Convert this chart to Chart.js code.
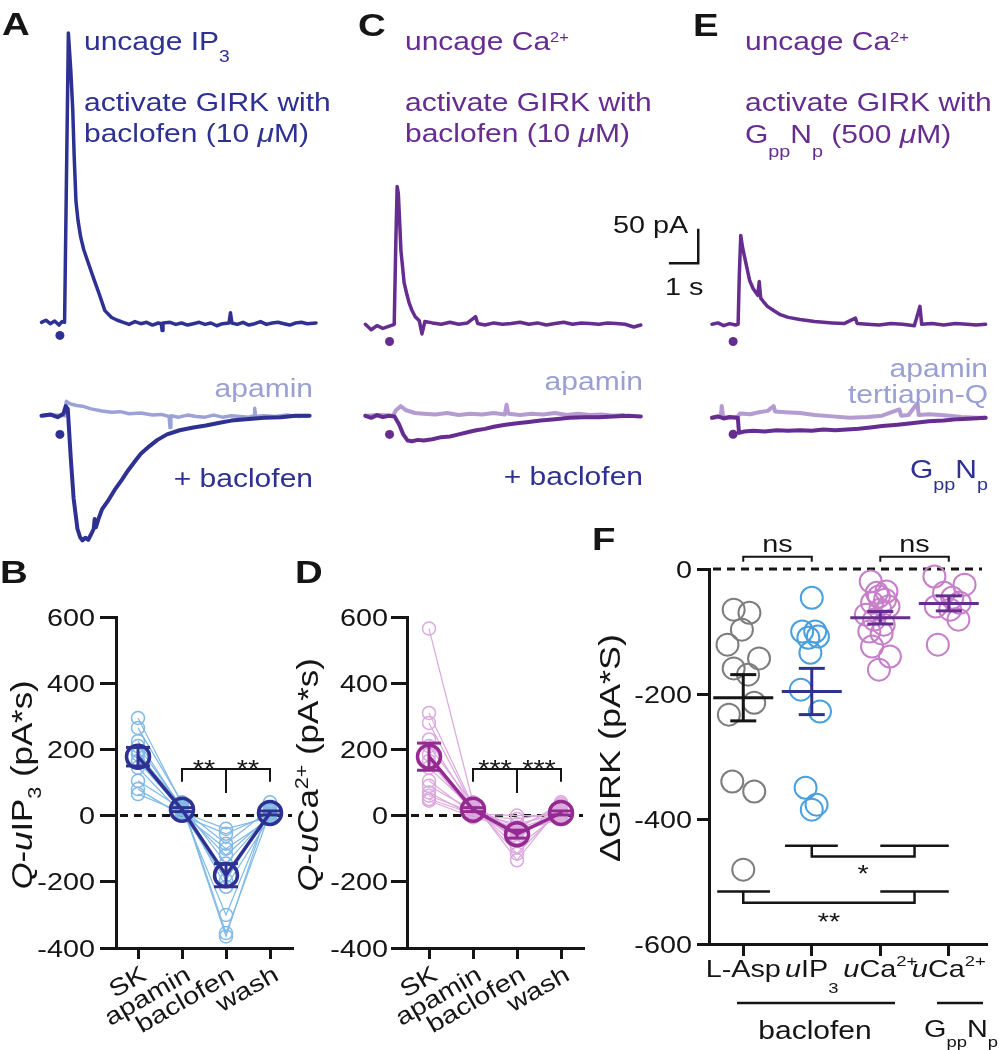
<!DOCTYPE html>
<html><head><meta charset="utf-8"><title>SK and GIRK currents</title>
<script src="https://cdn.jsdelivr.net/npm/chart.js@4.4.1/dist/chart.umd.min.js"></script>
<style>
html,body{margin:0;padding:0;background:#fff}
#fig{position:relative;width:999px;height:1050px;overflow:hidden;background:#fff}
#fig canvas{position:absolute}
</style></head><body>
<div id="fig">
<canvas id="cA" width="340" height="560" style="left:0px;top:0px"></canvas>
<canvas id="cC" width="330" height="560" style="left:330px;top:0px"></canvas>
<canvas id="cE" width="399" height="560" style="left:600px;top:0px"></canvas>
<canvas id="cB" width="330" height="490" style="left:0px;top:560px"></canvas>
<canvas id="cD" width="330" height="490" style="left:290px;top:560px"></canvas>
<canvas id="cF" width="419" height="560" style="left:580px;top:490px"></canvas>
</div>
<script>
// ================= DATA =================
// Panel A traces (time in s, current in pA)
const aTopT = [0,0.15,0.3,0.45,0.6,0.7,0.79,0.92,1.0,1.07,1.12,1.18,1.25,1.34,1.45,1.62,1.8,1.96,2.17,2.4,2.6,2.8,3.0,3.2,3.4,3.6,3.8,4.0,4.1,4.13,4.16,4.4,4.6,4.8,5.0,5.2,5.4,5.6,5.8,6.0,6.2,6.42,6.47,6.52,6.7,6.9,7.1,7.3,7.5,7.7,7.9,8.1,8.3,8.5,8.7,8.9,9.1,9.4];
const aTopI = [0,3,-2,2,-4,1,0,420,368,309,240,176,148,124,105,84,62,43,17,7,3,0,-3,1,-2,0,-4,-1,-2,-12,-1,0,-3,-1,-4,-2,0,-3,-1,-5,-2,-1,14,-1,-3,0,-4,-2,1,-3,-1,0,-2,-4,-1,0,-2,-1];
const aApaT = [0,0.4,0.8,0.85,0.92,1.0,1.2,1.4,1.7,2.07,2.4,2.7,3.0,3.4,3.8,4.1,4.37,4.4,4.43,4.7,5.0,5.3,5.6,5.9,6.2,6.5,6.8,7.1,7.28,7.3,7.33,7.6,8.0,8.4,8.8,9.2];
const aApaI = [0,1,0,21,19,17,15,14,10,7,5,6,3,4,1,2,-1,-17,0,-2,1,-1,-2,1,-2,0,-1,-2,0,11,-1,0,-1,1,-1,0];
const aBacT = [0,0.3,0.55,0.75,0.83,0.9,1.0,1.1,1.23,1.32,1.4,1.5,1.6,1.7,1.79,1.82,1.86,1.95,2.07,2.3,2.5,2.75,2.97,3.2,3.4,3.7,3.97,4.3,4.73,5.2,5.63,6.1,6.5,7.0,7.63,8.2,8.7,9.17];
const aBacI = [0,2,-2,3,14,10,-60,-120,-164,-176,-181,-177,-180,-172,-164,-150,-162,-150,-136,-122,-108,-93,-79,-66,-55,-44,-35,-27,-21,-17,-14,-10,-7,-5,-3,-2,0,0];
const aStimT = 0.63, aStimTopI = -19, aStimBotI = -27;

// Panel C traces
const cTopT = [0,0.2,0.4,0.6,0.8,0.99,1.04,1.09,1.13,1.17,1.22,1.33,1.42,1.5,1.6,1.71,1.85,1.94,2.04,2.3,2.6,2.9,3.2,3.5,3.78,3.85,4.1,4.4,4.7,5.0,5.3,5.6,5.9,6.2,6.5,6.8,7.1,7.4,7.7,8.0,8.3,8.6,8.9,9.2,9.44];
const cTopI = [0,-8,-2,-6,-3,0,110,200,190,155,107,60,44,31,20,11,5,-14,4,2,0,3,0,2,11,1,-1,2,0,1,3,0,2,-1,1,3,0,2,1,0,2,1,0,-4,-1];
const cApaT = [0,0.5,0.95,1.05,1.21,1.4,1.7,2.0,2.4,2.8,3.2,3.6,4.0,4.4,4.78,4.84,4.9,5.3,5.7,6.1,6.5,6.9,7.3,7.7,8.1,8.5,8.84];
const cApaI = [0,1,0,8,14,8,4,3,2,4,1,3,2,4,2,16,3,1,3,2,4,1,3,1,2,0,1];
const cBacT = [0,0.2,0.4,0.6,0.8,1.0,1.15,1.3,1.45,1.6,1.8,2.0,2.3,2.6,2.9,3.2,3.5,3.8,4.1,4.4,4.8,5.2,5.6,6.0,6.5,7.0,7.5,8.0,8.5,9.0,9.44];
const cBacI = [0,-3,1,-2,0,-1,-12,-27,-36,-37,-35,-36,-34,-31,-30,-27,-24,-21,-19,-16,-13,-11,-9,-7,-5,-3,-2,-2,-1,0,-1];
const cStimT = 0.83, cStimTopI = -25, cStimBotI = -27;

// Panel E traces
const eTopT = [0,0.2,0.4,0.6,0.8,0.89,0.93,0.98,1.04,1.11,1.2,1.28,1.4,1.56,1.61,1.66,1.75,1.89,2.1,2.33,2.6,3.0,3.5,4.1,4.5,4.89,4.95,5.3,5.7,6.1,6.5,6.9,7.09,7.15,7.5,7.9,8.3,8.7,9.0,9.33];
const eTopI = [0,2,-2,1,-1,0,70,129,112,98,80,64,52,42,62,38,33,26,20,14,10,7,4,2,1,9,1,0,-1,1,0,-2,26,0,1,-1,1,0,-1,0];
const eApaT = [0,0.3,0.33,0.38,0.6,0.89,0.95,1.3,1.6,1.9,2.1,2.15,2.5,3.0,3.5,4.1,4.7,5.3,5.8,6.39,6.45,6.7,7.0,7.05,7.4,7.8,8.1,8.5,9.0,9.33];
const eApaI = [0,1,17,1,0,2,6,5,8,10,17,9,8,7,4,2,0,1,3,12,3,4,21,4,5,4,3,1,0,0];
const eGppT = [0,0.2,0.4,0.6,0.8,0.88,0.92,1.1,1.4,1.8,2.2,2.6,3.0,3.4,3.8,4.2,4.6,5.0,5.4,5.8,6.33,6.8,7.4,7.9,8.4,8.9,9.33];
const eGppI = [0,2,-1,1,0,0,-22,-20,-19,-20,-18,-19,-18,-19,-17,-18,-17,-16,-14,-12,-10,-8,-5,-4,-2,-1,0];
const eStimT = 0.72, eStimTopI = -25, eStimBotI = -24;
const scaleBarS = 1, scaleBarPA = 50;

// Panel B (Q-uIP3, pA*s), one entry per cell
const condCats = ['SK','apamin','baclofen','wash'];
const bSK       = [295,265,225,210,195,185,165,145,105,80,65];
const bApamin   = [35,40,20,25,10,30,15,5,20,0,10];
const bBaclofen = [-365,-355,-300,-215,-195,-145,-120,-100,-85,-55,-40];
const bWash     = [40,10,25,-5,15,5,0,-10,20,5,-5];
const bMean = [178,18,-180,8];
const bSem  = [28,6,35,6];

// Panel D (Q-uCa2+, pA*s)
const dSK       = [565,310,280,230,210,185,165,145,105,90,70,60,50,45];
const dApamin   = [40,30,25,20,35,15,10,20,5,15,0,10,5,-5];
const dBaclofen = [-135,-115,-95,-75,-55,-45,-65,-35,-25,-50,-10,-40,0,-40];
const dWash     = [30,20,10,40,0,-5,15,25,5,-10,10,35,0,5];
const dMean = [178,18,-56,8];
const dSem  = [41,6,12,6];

// Panel F (delta GIRK, pA*S)
const fCats = ['L-Asp','~u~IP_{3}','~u~Ca^{2+}','~u~Ca^{2+}'];
const fLAsp    = [-65,-70,-97,-121,-143,-159,-169,-214,-233,-340,-356,-481];
const fLAspJit = [-0.14,0.09,-0.02,-0.23,0.23,-0.14,0.07,0.16,-0.21,-0.16,0.16,0];
const fUIP3    = [-46,-100,-100,-108,-110,-134,-193,-228,-350,-377,-385];
const fUIP3Jit = [0,-0.14,0.05,0.09,-0.05,-0.02,-0.16,0.12,-0.09,0.07,0];
const fUCa     = [-20,-36,-44,-54,-60,-73,-65,-81,-89,-100,-103,-124,-140,-161,-38,-49];
const fUCaJit  = [-0.14,0.09,-0.02,-0.12,0.12,-0.21,0,-0.09,0.05,-0.16,0.02,-0.12,0.14,-0.02,-0.05,0.07];
const fGpp     = [-12,-25,-38,-46,-54,-60,-65,-81,-121];
const fGppJit  = [-0.21,0.23,-0.07,0.05,0.16,-0.19,0.02,0.14,-0.16];
const fMean = [-206,-196,-78,-55];
const fSem  = [37,37,10,12];

// ================= STYLE =================
const FAM = '"Liberation Sans", Arial, Helvetica, sans-serif';
const SX = 1.2;
const BLACK = '#151515', BLUE = '#2e3192', PERI = '#9aa0d4', PURPLE = '#662d91';
const A_LIGHT = '#9ca1d6', C_LIGHT = '#b49bd0';
const B_LIGHT = '#80b9e6', D_LIGHT = '#dca8de', D_DARK = '#952a92';
const F_GREY = '#7d7d7d', F_BLUE = '#4aa0dd', F_PINK = '#c67fc8';

function parseRich(s){
  const segs=[]; let cur='', it=false, i=0;
  const push=(t,ex)=>{ if(t) segs.push(Object.assign({t:t,i:it},ex||{})); };
  while(i<s.length){
    const c=s[i];
    if(c==='~'){ push(cur); cur=''; it=!it; i++; continue; }
    if((c==='_'||c==='^') && s[i+1]==='{'){
      push(cur); cur=''; const j=s.indexOf('}',i);
      push(s.slice(i+2,j), c==='_'?{sub:true}:{sup:true}); i=j+1; continue;
    }
    cur+=c; i++;
  }
  push(cur); return segs;
}
function drawText(ctx, s, x, y, o){
  o=o||{}; const size=o.size||24, bold=o.bold?'bold ':'';
  const small=o.small||0.62, subDy=(o.subDy!==undefined)?o.subDy:size*0.45, supDy=(o.supDy!==undefined)?o.supDy:-size*0.32;
  const segs=parseRich(s);
  const fontOf=sg=>(sg.i?'italic ':'')+bold+((sg.sub||sg.sup)?size*small:size)+'px '+FAM;
  let w=0; segs.forEach(sg=>{ ctx.font=fontOf(sg); sg.w=ctx.measureText(sg.t).width; w+=sg.w; });
  ctx.save(); ctx.translate(x,y); if(o.rot) ctx.rotate(o.rot*Math.PI/180); ctx.scale(o.sx||SX,1);
  ctx.fillStyle=o.color||BLACK; ctx.textBaseline='alphabetic'; ctx.textAlign='left';
  let cx = o.align==='right' ? -w : (o.align==='center' ? -w/2 : 0);
  segs.forEach(sg=>{ ctx.font=fontOf(sg); const dy=sg.sub?subDy:(sg.sup?supDy:0); ctx.fillText(sg.t,cx,dy); cx+=sg.w; });
  ctx.restore();
}
function seg(ctx, pts, w, color){
  ctx.save(); ctx.strokeStyle=color||BLACK; ctx.lineWidth=w; ctx.lineJoin='miter'; ctx.lineCap='butt';
  ctx.beginPath(); ctx.moveTo(pts[0][0],pts[0][1]); for(let i=1;i<pts.length;i++) ctx.lineTo(pts[i][0],pts[i][1]); ctx.stroke(); ctx.restore();
}
const zip=(t,v)=>t.map((x,i)=>({x:x,y:v[i]}));

// ================= TRACE PANELS =================
const PX_S = 30, PX_PA = 0.7;
function xRange(zeroPx,w){ return {min:-zeroPx/PX_S, max:(w-zeroPx)/PX_S}; }
function yRange(zeroPx,h){ return {min:-(h-zeroPx)/PX_PA, max:zeroPx/PX_PA}; }
function line(data, axis, color, w, order){ return {data:data, yAxisID:axis, borderColor:color, borderWidth:w, pointRadius:0, fill:false, order:order}; }
function dot(t, i, axis, color){ return {data:[{x:t,y:i}], yAxisID:axis, showLine:false, pointRadius:4.5, pointBorderWidth:0, pointBackgroundColor:color, order:0}; }
function traceChart(id, xr, yt, yb, sets, notes){
  return new Chart(document.getElementById(id), {
    type:'line', data:{datasets:sets},
    options:{responsive:false, animation:false, events:[], layout:{padding:0},
      scales:{ x:{type:'linear', display:false, min:xr.min, max:xr.max},
               y:{type:'linear', display:false, min:yt.min, max:yt.max},
               y2:{type:'linear', display:false, min:yb.min, max:yb.max} },
      plugins:{legend:{display:false}, tooltip:{enabled:false}},
      elements:{line:{tension:0, borderJoinStyle:'round', borderCapStyle:'round'}}},
    plugins:[{id:'notes', afterDraw(chart){ notes.forEach(n=>drawText(chart.ctx,n[0],n[1],n[2],n[3])); }}]
  });
}
traceChart('cA', xRange(38,340), yRange(323,560), yRange(418,560), [
  line(zip(aTopT,aTopI),'y',BLUE,3.5,1),
  line(zip(aBacT,aBacI),'y2',BLUE,4,1),
  line(zip(aApaT,aApaI),'y2',A_LIGHT,3.5,2),
  dot(aStimT,aStimTopI,'y',BLUE), dot(aStimT,aStimBotI,'y2',BLUE)
], [
  ['A',2,35,{size:32,bold:true}],
  ['uncage IP_{3}',84,50,{size:25,color:BLUE,small:0.64,subDy:11.5}],
  ['activate GIRK with',84,111,{size:25,color:BLUE}],
  ['baclofen (10 ~μ~M)',84,142,{size:25,color:BLUE}],
  ['apamin',313,397,{size:25,color:PERI,align:'right'}],
  ['+ baclofen',313,487,{size:25,color:BLUE,align:'right'}]
]);
traceChart('cC', xRange(31.7,330), yRange(325,560), yRange(418,560), [
  line(zip(cTopT,cTopI),'y',PURPLE,3.5,1),
  line(zip(cBacT,cBacI),'y2',PURPLE,4,1),
  line(zip(cApaT,cApaI),'y2',C_LIGHT,4,2),
  dot(cStimT,cStimTopI,'y',PURPLE), dot(cStimT,cStimBotI,'y2',PURPLE)
], [
  ['C',28,36,{size:32,bold:true}],
  ['uncage Ca^{2+}',75,50,{size:25,color:PURPLE,small:0.55,supDy:-8}],
  ['activate GIRK with',75,111,{size:25,color:PURPLE}],
  ['baclofen (10 ~μ~M)',75,142,{size:25,color:PURPLE}],
  ['apamin',313,390,{size:25,color:PERI,align:'right'}],
  ['+ baclofen',313,485,{size:25,color:BLUE,align:'right'}]
]);
const sbT0 = -1.47, sbI0 = 88.6;
traceChart('cE', xRange(110,399), yRange(325,560), yRange(420,560), [
  line(zip(eTopT,eTopI),'y',PURPLE,3.5,1),
  line(zip(eGppT,eGppI),'y2',PURPLE,4,1),
  line(zip(eApaT,eApaI),'y2',C_LIGHT,4,2),
  dot(eStimT,eStimTopI,'y',PURPLE), dot(eStimT,eStimBotI,'y2',PURPLE),
  {data:[{x:sbT0,y:sbI0},{x:sbT0+scaleBarS,y:sbI0},{x:sbT0+scaleBarS,y:sbI0+scaleBarPA}], yAxisID:'y', borderColor:BLACK, borderWidth:2.5, pointRadius:0, borderJoinStyle:'miter', borderCapStyle:'butt', order:0}
], [
  ['E',93,36,{size:32,bold:true}],
  ['uncage Ca^{2+}',145,50,{size:25,color:PURPLE,small:0.55,supDy:-8}],
  ['activate GIRK with',145,111,{size:25,color:PURPLE}],
  ['G_{pp}N_{p} (500 ~μ~M)',145,143,{size:25,color:PURPLE,small:0.66,subDy:14}],
  ['50 pA',13,233,{size:24}],
  ['1 s',65,295,{size:24}],
  ['apamin',388,377,{size:25,color:PERI,align:'right'}],
  ['tertiapin-Q',388,403,{size:25,color:PERI,align:'right'}],
  ['G_{pp}N_{p}',388,478,{size:25,color:BLUE,align:'right',small:0.66,subDy:12}]
]);

// ================= PAIRED PANELS (B, D) =================
function axisStyle(tickLen){
  return { grid:{display:true, drawOnChartArea:false, drawTicks:true, tickLength:tickLen, lineWidth:3, tickWidth:3, color:BLACK, tickColor:BLACK, offset:false},
           border:{display:true, width:3, color:BLACK} };
}
function pairedChart(id, P){
  const n=P.conds[0].length, sets=[];
  for(let c=0;c<n;c++) sets.push({data:P.conds.map(a=>a[c]), borderColor:P.light, borderWidth:1.2, pointRadius:6.5, pointBorderWidth:1.5, pointBorderColor:P.light, pointBackgroundColor:'rgba(255,255,255,0)', clip:false, order:1});
  sets.push({data:P.mean, borderColor:P.dark, borderWidth:3.5, pointRadius:11.5, pointBorderWidth:3.5, pointBorderColor:P.dark, pointBackgroundColor:'rgba(255,255,255,0)', clip:false, order:0});
  const xs = Object.assign({type:'category', offset:true, ticks:{display:false}, afterFit:s=>{s.height=P.xH;}}, axisStyle(11));
  const ys = Object.assign({type:'linear', min:-400, max:600, ticks:{display:false, stepSize:200}, afterFit:s=>{s.width=P.yW;}}, axisStyle(16));
  return new Chart(document.getElementById(id), {
    type:'line', data:{labels:P.cats, datasets:sets},
    options:{responsive:false, animation:false, events:[], layout:{padding:{left:0,top:57,right:P.padR,bottom:0}},
      scales:{x:xs, y:ys}, plugins:{legend:{display:false}, tooltip:{enabled:false}},
      elements:{line:{tension:0}}},
    plugins:[{id:'paired',
      beforeDatasetsDraw(chart){
        const ctx=chart.ctx, y=chart.scales.y, a=chart.chartArea;
        ctx.save(); ctx.setLineDash([8,6]); seg(ctx,[[a.left+4,y.getPixelForValue(0)],[a.right,y.getPixelForValue(0)]],3,BLACK); ctx.restore();
      },
      afterDatasetsDraw(chart){
        const ctx=chart.ctx, x=chart.scales.x, y=chart.scales.y;
        P.mean.forEach((m,i)=>{
          const px=x.getPixelForValue(i), t=y.getPixelForValue(m+P.sem[i]), b=y.getPixelForValue(m-P.sem[i]);
          seg(ctx,[[px,t],[px,b]],3,P.dark); seg(ctx,[[px-12,t],[px+12,t]],3,P.dark); seg(ctx,[[px-12,b],[px+12,b]],3,P.dark);
        });
        const X=v=>x.getPixelForValue(v), Y=v=>y.getPixelForValue(v);
        seg(ctx,[[X(1),Y(102)],[X(1),Y(141)],[X(3),Y(141)],[X(3),Y(102)]],2,BLACK);
        seg(ctx,[[X(2),Y(141)],[X(2),Y(68)]],2,BLACK);
        drawText(ctx,P.star,(X(1)+X(2))/2,Y(116),{size:24,align:'center'});
        drawText(ctx,P.star,(X(2)+X(3))/2,Y(116),{size:24,align:'center'});
      },
      afterDraw(chart){
        const ctx=chart.ctx, x=chart.scales.x, y=chart.scales.y, a=chart.chartArea;
        y.ticks.forEach((t,k)=>drawText(ctx,String(t.value),P.yLabR,y.getPixelForTick(k)+8.5,{size:24,align:'right'}));
        P.cats.forEach((c,k)=>drawText(ctx,c,x.getPixelForTick(k)+10,a.bottom+31,{size:24,rot:-30,align:'right'}));
        drawText(ctx,P.title,P.titleX,P.titleY,{size:29,rot:-90,align:'center',small:0.62,subDy:9,supDy:-10});
        drawText(ctx,P.letter,P.letterX,23,{size:32,bold:true});
      }}]
  });
}
pairedChart('cB', {cats:condCats, conds:[bSK,bApamin,bBaclofen,bWash], mean:bMean, sem:bSem,
  light:B_LIGHT, dark:BLUE, xH:102, yW:116, padR:38, yLabR:95, star:'**',
  title:'~Q~-~u~IP_{3} (pA*s)', titleX:32, titleY:225, letter:'B', letterX:0});
pairedChart('cD', {cats:condCats, conds:[dSK,dApamin,dBaclofen,dWash], mean:dMean, sem:dSem,
  light:D_LIGHT, dark:D_DARK, xH:102, yW:117, padR:37, yLabR:98, star:'***',
  title:'~Q~-~u~Ca^{2+} (pA*s)', titleX:28, titleY:215, letter:'D', letterX:5});

// ================= PANEL F =================
const fGroups = [
  {vals:fLAsp, jit:fLAspJit, color:F_GREY, dark:BLACK},
  {vals:fUIP3, jit:fUIP3Jit, color:F_BLUE, dark:BLUE},
  {vals:fUCa,  jit:fUCaJit,  color:F_PINK, dark:PURPLE},
  {vals:fGpp,  jit:fGppJit,  color:F_PINK, dark:PURPLE}
];
new Chart(document.getElementById('cF'), {
  type:'scatter',
  data:{datasets:fGroups.map((g,k)=>({data:g.vals.map((v,i)=>({x:k+1+g.jit[i], y:v})), pointRadius:11, pointBorderWidth:2, pointBorderColor:g.color, pointBackgroundColor:'rgba(255,255,255,0)', clip:false}))},
  options:{responsive:false, animation:false, events:[], layout:{padding:{left:0,top:79,right:0,bottom:0}},
    scales:{
      x:Object.assign({type:'linear', min:0.5, max:4.543, ticks:{display:false}, afterBuildTicks:s=>{s.ticks=fCats.map((c,i)=>({value:i+1}));}, afterFit:s=>{s.height=106;}}, axisStyle(12)),
      y:Object.assign({type:'linear', min:-600, max:0, ticks:{display:false, stepSize:200}, afterFit:s=>{s.width=129;}}, axisStyle(12))
    },
    plugins:{legend:{display:false}, tooltip:{enabled:false}}},
  plugins:[{id:'fdeco',
    beforeDatasetsDraw(chart){
      const ctx=chart.ctx, y=chart.scales.y, a=chart.chartArea;
      ctx.save(); ctx.setLineDash([8,6]); seg(ctx,[[a.left+4,y.getPixelForValue(0)],[a.right-4,y.getPixelForValue(0)]],3,BLACK); ctx.restore();
    },
    afterDatasetsDraw(chart){
      const ctx=chart.ctx, x=chart.scales.x, y=chart.scales.y;
      const X=v=>x.getPixelForValue(v), Y=v=>y.getPixelForValue(v);
      fMean.forEach((m,k)=>{
        const px=X(k+1), c=fGroups[k].dark, t=Y(m+fSem[k]), b=Y(m-fSem[k]), my=Y(m);
        seg(ctx,[[px-30,my],[px+30,my]],3,c); seg(ctx,[[px,t],[px,b]],3,c);
        seg(ctx,[[px-13,t],[px+13,t]],3,c); seg(ctx,[[px-13,b],[px+13,b]],3,c);
      });
      // ns brackets
      seg(ctx,[[X(1),Y(11.7)],[X(1),Y(19.7)],[X(2),Y(19.7)],[X(2),Y(11.7)]],2,BLACK);
      seg(ctx,[[X(3),Y(11.7)],[X(3),Y(19.7)],[X(4),Y(19.7)],[X(4),Y(11.7)]],2,BLACK);
      drawText(ctx,'ns',(X(1)+X(2))/2,Y(27),{size:24,align:'center'});
      drawText(ctx,'ns',(X(3)+X(4))/2,Y(27),{size:24,align:'center'});
      // * bracket
      seg(ctx,[[X(1.61),Y(-442.7)],[X(2.38),Y(-442.7)]],2.5,BLACK);
      seg(ctx,[[X(2),Y(-442.7)],[X(2),Y(-460)],[X(3.5),Y(-460)],[X(3.5),Y(-442.7)]],2.5,BLACK);
      seg(ctx,[[X(3),Y(-442.7)],[X(4),Y(-442.7)]],2.5,BLACK);
      drawText(ctx,'*',(X(2)+X(3.5))/2,Y(-501),{size:24,align:'center'});
      // ** bracket
      seg(ctx,[[X(0.62),Y(-516)],[X(1.39),Y(-516)]],2.5,BLACK);
      seg(ctx,[[X(1),Y(-516)],[X(1),Y(-534)],[X(3.5),Y(-534)],[X(3.5),Y(-516)]],2.5,BLACK);
      seg(ctx,[[X(3),Y(-516)],[X(4),Y(-516)]],2.5,BLACK);
      drawText(ctx,'**',(X(1)+X(3.5))/2,Y(-578),{size:24,align:'center'});
    },
    afterDraw(chart){
      const ctx=chart.ctx, x=chart.scales.x, y=chart.scales.y, a=chart.chartArea;
      y.ticks.forEach((t,k)=>drawText(ctx,String(t.value),112,y.getPixelForTick(k)+8.5,{size:24,align:'right'}));
      fCats.forEach((c,k)=>drawText(ctx,c,x.getPixelForValue(k+1),a.bottom+33,{size:24,align:'center',small:0.64,subDy:16,supDy:-11}));
      seg(ctx,[[157,513],[315,513]],2.5,BLACK);
      seg(ctx,[[357,513],[403,513]],2.5,BLACK);
      drawText(ctx,'baclofen',235,549,{size:25,align:'center'});
      drawText(ctx,'G_{pp}N_{p}',381,547,{size:24,align:'center',small:0.64,subDy:10});
      drawText(ctx,'ΔGIRK (pA*S)',40,258,{size:30,rot:-90,align:'center'});
      drawText(ctx,'F',12,60,{size:32,bold:true});
    }}]
});
</script></body></html>
